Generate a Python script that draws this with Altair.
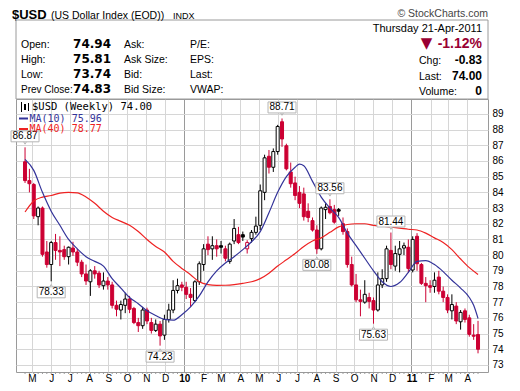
import altair as alt
import pandas as pd
import numpy as np

# ---------------- data (weekly bars, week of Monday) ----------------
FIRST_WEEK = "2009-04-20"

opens = [85.95, 84.75, 84.50, 82.45, 83.00, 80.20, 79.40, 80.80, 80.30, 80.35,
         79.90, 80.45, 80.20, 79.55, 78.80, 78.30, 79.00, 78.85, 78.05, 78.35,
         78.10, 76.80, 76.50, 76.80, 77.20, 76.60, 75.70, 75.50, 76.50, 75.70,
         75.20, 75.60, 74.90, 75.90, 76.50, 77.75, 78.10, 77.95, 77.50, 77.10,
         78.30, 79.40, 80.70, 80.40, 80.60, 80.60, 80.40, 79.60, 80.90, 81.30,
         81.30, 80.40, 81.05, 81.45, 81.90, 84.00, 86.30, 85.60, 86.60, 88.50,
         86.97, 85.30, 84.60, 84.00, 83.90, 82.80, 82.20, 81.60, 80.40, 82.90,
         83.10, 82.90, 82.90, 82.00, 81.50, 79.40, 78.10, 77.15, 77.00, 77.30,
         77.10, 76.50, 78.10, 78.50, 80.30, 79.30, 80.05, 80.45, 80.50, 79.05,
         81.20, 79.40, 78.20, 78.05, 78.00, 78.60, 77.70, 77.30, 76.45, 76.75,
         75.75, 76.45, 76.00, 74.90, 74.94]
highs = [86.87, 85.50, 84.60, 83.10, 83.10, 80.90, 80.90, 81.35, 81.20, 80.60,
         80.55, 80.85, 80.40, 79.70, 79.40, 79.10, 79.30, 79.00, 78.90, 78.60,
         78.30, 77.10, 77.10, 77.60, 77.40, 76.70, 76.00, 76.70, 76.65, 76.00,
         75.90, 75.80, 76.20, 76.90, 78.40, 78.50, 78.30, 78.30, 77.90, 78.40,
         79.60, 80.70, 81.20, 81.20, 81.00, 80.90, 80.60, 80.80, 82.30, 81.80,
         81.50, 80.95, 81.60, 82.45, 84.50, 86.40, 86.70, 86.80, 88.30, 88.71,
         87.10, 85.90, 85.00, 84.40, 84.30, 83.30, 82.40, 81.90, 83.10, 83.30,
         83.56, 83.20, 83.00, 82.40, 81.70, 79.90, 78.80, 77.80, 78.40, 77.60,
         77.30, 78.90, 79.10, 80.60, 81.44, 80.60, 80.90, 80.80, 81.00, 81.20,
         81.40, 79.50, 78.60, 78.40, 78.90, 79.00, 78.00, 77.50, 77.50, 77.00,
         76.50, 76.60, 76.20, 75.60, 75.81]
lows = [84.60, 84.00, 82.30, 81.90, 79.90, 79.20, 78.33, 79.70, 79.30, 79.70,
        79.40, 79.95, 79.30, 78.60, 78.10, 77.40, 78.50, 77.90, 77.80, 77.80,
        76.60, 76.10, 75.90, 76.30, 76.30, 75.60, 75.10, 75.30, 75.60, 75.00,
        75.10, 74.23, 74.60, 75.70, 76.30, 77.56, 77.70, 77.20, 76.70, 77.00,
        78.10, 79.00, 80.00, 79.70, 79.90, 80.10, 79.60, 79.45, 80.70, 80.70,
        80.90, 80.10, 80.80, 81.30, 81.60, 83.50, 85.20, 85.30, 86.40, 86.90,
        85.40, 84.30, 83.50, 83.00, 82.20, 82.10, 81.50, 80.08, 80.30, 82.30,
        82.60, 82.00, 82.50, 81.30, 79.20, 78.00, 77.00, 76.10, 76.90, 76.60,
        75.63, 76.40, 77.90, 78.30, 79.10, 79.00, 78.90, 80.00, 78.90, 78.90,
        79.00, 78.10, 77.00, 77.60, 77.60, 77.50, 77.00, 76.30, 75.90, 75.60,
        75.25, 75.70, 74.80, 74.60, 73.74]
closes = [84.75, 84.55, 82.50, 83.00, 80.05, 79.40, 80.80, 80.30, 80.20, 79.90,
          80.50, 80.20, 79.55, 78.80, 78.35, 79.00, 78.80, 78.10, 78.35, 78.10,
          76.80, 76.55, 76.85, 77.20, 76.55, 75.70, 75.50, 76.50, 75.80, 75.20,
          75.60, 74.85, 75.90, 76.50, 77.75, 78.05, 77.95, 77.50, 77.30, 78.30,
          79.45, 80.40, 80.35, 80.60, 80.40, 80.50, 79.80, 80.70, 81.70, 80.80,
          81.15, 80.80, 81.45, 81.85, 84.10, 86.20, 85.60, 86.60, 88.20, 87.40,
          85.50, 84.55, 83.80, 83.30, 82.45, 82.40, 81.60, 80.40, 83.00, 83.05,
          82.70, 82.10, 82.80, 81.50, 79.40, 78.10, 77.15, 77.05, 77.50, 77.05,
          76.50, 78.10, 78.50, 80.40, 79.40, 80.10, 80.40, 80.60, 79.15, 81.00,
          79.45, 78.20, 78.05, 77.95, 78.40, 77.70, 77.30, 76.50, 76.85, 75.80,
          76.35, 75.90, 74.95, 74.83, 74.00]

ma10_weeks = [0, 2, 4, 6, 8, 10, 12, 14, 16, 18, 20, 22, 24, 26, 28, 30, 32, 34,
              36, 38, 40, 42, 44, 46, 48, 50, 52, 54, 56, 58, 60, 62, 63, 64, 66,
              68, 70, 72, 74, 76, 78, 80, 82, 84, 86, 88, 90, 92, 94, 96, 98, 100,
              102, 103, 104]
ma10_vals = [86.1, 85.4, 84.0, 82.8, 81.9, 81.0, 80.4, 79.9, 79.6, 79.3, 78.5, 77.9,
             77.3, 76.9, 76.45, 76.15, 75.9, 75.85, 76.2, 76.7, 77.4, 78.3, 79.0,
             79.5, 79.9, 80.35, 80.85, 81.5, 82.7, 84.0, 85.0, 85.6, 85.8, 85.7,
             84.7, 83.7, 83.0, 82.4, 81.4, 80.6, 79.8, 79.0, 78.3, 78.0, 78.25,
             78.9, 79.6, 79.65, 79.4, 78.95, 78.4, 77.9, 77.3, 76.8, 75.96]

ma40_vals = [82.75, 83.45, 83.7, 83.8, 83.95, 84.0, 83.97, 83.7, 83.3, 82.8, 82.4,
             82.15, 81.9, 81.5, 81.0, 80.55, 80.2, 79.6, 79.15, 78.75, 78.3, 78.12,
             78.07, 78.08, 78.12, 78.2, 78.3, 78.5, 78.85, 79.3, 79.7, 80.1, 80.55,
             80.9, 81.1, 81.45, 81.8, 81.95, 82.0, 82.0, 81.9, 81.85, 81.78, 81.72,
             81.65, 81.6, 81.4, 81.1, 80.8, 80.35, 79.75, 79.2, 78.77]
ma40_weeks = list(range(0, 104, 2)) + [104]

ann_weeks = [0, 6, 31, 59, 67, 70, 80, 84]
ann_vals = [86.87, 78.33, 74.23, 88.71, 80.08, 83.56, 75.63, 81.44]
ann_side = ["high", "low", "low", "high", "low", "high", "low", "high"]

price_ticks = list(range(73, 90))
month_ticks = [(2009, m) for m in range(5, 13)] + [(2010, m) for m in range(1, 13)] + \
              [(2011, m) for m in range(1, 5)]

# ---------------- tables ----------------
dates = pd.date_range(FIRST_WEEK, periods=len(closes), freq="7D")
df = pd.DataFrame({"date": dates, "open": opens, "high": highs, "low": lows, "close": closes})
prev = df["close"].shift(1)
RED, BLK = "#CC0033", "#000000"
df["strokec"] = np.where(df["close"] >= prev, BLK, RED)
df["fillc"] = np.where(df["close"] > df["open"], "#ffffff", df["strokec"])

ma10 = pd.DataFrame({"date": dates[ma10_weeks], "value": ma10_vals})
ma40 = pd.DataFrame({"date": dates[ma40_weeks], "value": ma40_vals})
ann = pd.DataFrame({"date": dates[ann_weeks], "value": ann_vals, "side": ann_side,
                    "label": [f"{v:.2f}" for v in ann_vals]})
ann_hi = ann[ann.side == "high"]
ann_lo = ann[ann.side == "low"]
one = pd.DataFrame({"k": [0]})

W, H = 472, 273
FONT = "Liberation Sans"

xscale = alt.Scale(domain=[alt.DateTime(year=2009, month=4, date=13, hours=12),
                           alt.DateTime(year=2011, month=4, date=26)])
yscale = alt.Scale(domain=[72.55, 89.95], zero=False, nice=False)
is_jan = "month(datum.value)==0"
xaxis = alt.Axis(
    values=[alt.DateTime(year=y, month=m, date=1) for y, m in month_ticks],
    labelExpr=f"{is_jan} ? timeFormat(datum.value,'%y') : substring(timeFormat(datum.value,'%b'),0,1)",
    labelFontWeight={"condition": {"test": is_jan, "value": "bold"}, "value": "normal"},
    gridColor={"condition": {"test": is_jan, "value": "#9a9a9a"}, "value": "#d6d6d6"},
    grid=True, ticks=False, domain=False, title=None, labelPadding=1,
    labelFont=FONT, labelFontSize=10, labelColor="#000000")
yaxis = alt.Axis(orient="right", values=price_ticks, grid=True, gridColor="#d6d6d6",
                 ticks=False, domain=False, title=None, labelPadding=4,
                 labelFont=FONT, labelFontSize=10, labelColor="#000000")


def X():
    return alt.X("date:T", scale=xscale, axis=xaxis)


def Y(field):
    return alt.Y(f"{field}:Q", scale=yscale, axis=yaxis)


def txt(s, x, y, size=10.5, weight="normal", font=FONT, color="#000000",
        align="left", baseline="alphabetic"):
    return alt.Chart(one).mark_text(text=s, fontSize=size, fontWeight=weight, font=font,
                                    color=color, align=align, baseline=baseline).encode(
        x=alt.value(x), y=alt.value(y))


# ---------------- plot layers ----------------
wicks = alt.Chart(df).mark_rule(strokeWidth=1).encode(
    x=X(), y=Y("low"), y2="high", color=alt.Color("strokec:N", scale=None))
bodies = alt.Chart(df).mark_bar(size=3, strokeWidth=1).encode(
    x=X(), y=Y("open"), y2="close",
    fill=alt.Fill("fillc:N", scale=None), stroke=alt.Stroke("strokec:N", scale=None))
week_ticks = alt.Chart(df).mark_rule(color="#999999").encode(
    x=X(), y=alt.value(H), y2=alt.value(H + 2))
line10 = alt.Chart(ma10).mark_line(color="#333399", strokeWidth=1.2, interpolate="monotone").encode(
    x=X(), y=Y("value"))
line40 = alt.Chart(ma40).mark_line(color="#EE2222", strokeWidth=1.2, interpolate="monotone").encode(
    x=X(), y=Y("value"))

BOXC = "#b5b5b5"
hi_ptr = alt.Chart(ann_hi).mark_point(shape="triangle-down", size=18, filled=True, fill="white",
                                      stroke=BOXC, strokeWidth=1, yOffset=-5, opacity=1).encode(
    x=X(), y=Y("value"))
lo_ptr = alt.Chart(ann_lo).mark_point(shape="triangle-up", size=18, filled=True, fill="white",
                                      stroke=BOXC, strokeWidth=1, yOffset=5, opacity=1).encode(
    x=X(), y=Y("value"))
hi_box = alt.Chart(ann_hi).mark_rect(width=28, height=11, fill="white", stroke=BOXC,
                                     strokeWidth=1, yOffset=-11).encode(x=X(), y=Y("value"))
lo_box = alt.Chart(ann_lo).mark_rect(width=28, height=11, fill="white", stroke=BOXC,
                                     strokeWidth=1, yOffset=11).encode(x=X(), y=Y("value"))
hi_txt = alt.Chart(ann_hi).mark_text(font=FONT, fontSize=10, color="#000000", dy=-11,
                                     baseline="middle").encode(x=X(), y=Y("value"), text="label:N")
lo_txt = alt.Chart(ann_lo).mark_text(font=FONT, fontSize=10, color="#000000", dy=11,
                                     baseline="middle").encode(x=X(), y=Y("value"), text="label:N")

# legend inside the plot
MONO = "DejaVu Sans Mono"
legend = [
    alt.Chart(one).mark_rule(color="#000000", strokeWidth=1).encode(
        x=alt.value(5.5), y=alt.value(3), y2=alt.value(13)),
    alt.Chart(one).mark_rule(color="#000000", strokeWidth=2).encode(
        x=alt.value(9), y=alt.value(5), y2=alt.value(11)),
    alt.Chart(one).mark_rule(color="#000000", strokeWidth=1).encode(
        x=alt.value(12.5), y=alt.value(4), y2=alt.value(12)),
    txt("$USD (Weekly) 74.00", 16, 8, size=10.5, font=MONO, baseline="middle"),
    alt.Chart(one).mark_rule(color="#333399", strokeWidth=2).encode(
        x=alt.value(3), x2=alt.value(12), y=alt.value(19.5)),
    txt("MA(10) 75.96", 13.5, 19.5, size=10, font=MONO, color="#333399", baseline="middle"),
    alt.Chart(one).mark_rule(color="#EE2222", strokeWidth=2).encode(
        x=alt.value(3), x2=alt.value(12), y=alt.value(30)),
    txt("MA(40) 78.77", 13.5, 30, size=10, font=MONO, color="#EE2222", baseline="middle"),
]

# ---------------- header panel ----------------
header_box = alt.Chart(one).mark_rect(fill="white", stroke="#9a9a9a", strokeWidth=1).encode(
    x=alt.value(0), x2=alt.value(W), y=alt.value(-79), y2=alt.value(0))
VB = "DejaVu Sans"
DARKRED = "#990033"
header = [
    header_box,
    txt("$USD", -4, -80, size=13, weight="bold"),
    txt("(US Dollar Index (EOD))", 35, -80, size=10.5),
    txt("INDX", 157, -80, size=9),
    txt("© StockCharts.com", W, -82, size=10.5, color="#444444", align="right"),
    txt("Open:", 5, -51), txt("High:", 5, -36), txt("Low:", 5, -21),
    txt("Prev Close:", 5, -6, size=10),
    txt("74.94", 95, -51, size=12, weight="bold", font=VB, align="right"),
    txt("75.81", 95, -36, size=12, weight="bold", font=VB, align="right"),
    txt("73.74", 95, -21, size=12, weight="bold", font=VB, align="right"),
    txt("74.83", 95, -6, size=12, weight="bold", font=VB, align="right"),
    txt("Ask:", 108, -51), txt("Ask Size:", 108, -36), txt("Bid:", 108, -21), txt("Bid Size:", 108, -6),
    txt("P/E:", 174, -51), txt("EPS:", 174, -36), txt("Last:", 174, -21), txt("VWAP:", 174, -6),
    txt("Thursday  21-Apr-2011", 466, -67, size=11, align="right"),
    txt("▼", 410.5, -51, size=15, font=VB, color=DARKRED, align="center"),
    txt("-1.12%", 466, -51, size=14, weight="bold", color=DARKRED, align="right"),
    txt("Chg:", 403, -35), txt("Last:", 403, -19.5), txt("Volume:", 403, -4),
    txt("-0.83", 466, -35, size=12, weight="bold", align="right"),
    txt("74.00", 466, -19.5, size=12, weight="bold", align="right"),
    txt("0", 466, -4, size=12, weight="bold", align="right"),
]

chart = alt.layer(
    wicks, bodies, week_ticks, line40, line10,
    hi_ptr, lo_ptr, hi_box, lo_box, hi_txt, lo_txt,
    *legend, *header,
).properties(
    width=W, height=H,
    padding={"left": 8, "top": 91, "right": 24, "bottom": 11},
    autosize=alt.AutoSizeParams(type="none"),
    background="white",
).configure_view(stroke="#9a9a9a", strokeWidth=1)

chart.save("out.html", embed_options={"renderer": "svg", "actions": False})
